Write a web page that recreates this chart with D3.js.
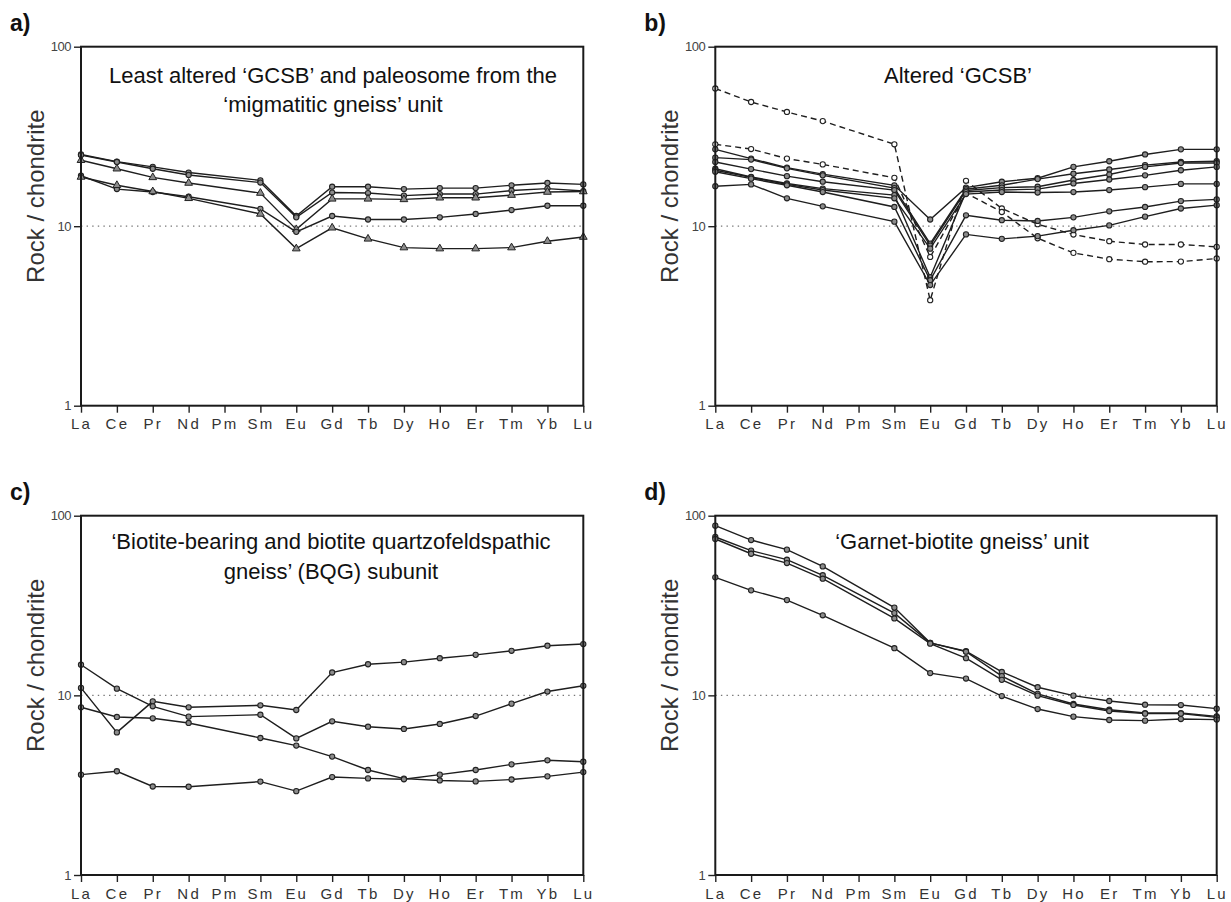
<!DOCTYPE html>
<html>
<head>
<meta charset="utf-8">
<script src="https://cdn.jsdelivr.net/npm/d3@7/dist/d3.min.js"></script>
<style>
  html, body { margin: 0; padding: 0; background: #fff; }
  svg { display: block; }
  text { font-family: "Liberation Sans", Arial, sans-serif; }
</style>
</head>
<body>
<svg id="chart" width="1231" height="902"></svg>
<script>
// ---------- categories & ticks ----------
const elements = ["La","Ce","Pr","Nd","Pm","Sm","Eu","Gd","Tb","Dy","Ho","Er","Tm","Yb","Lu"];
const yTickValues = [1, 10, 100];
const yLabel = "Rock / chondrite";

// ---------- panel a: Least altered 'GCSB' ----------
const titleA = ["Least altered \u2018GCSB\u2019 and paleosome from the", "\u2018migmatitic gneiss\u2019 unit"];
const seriesA1 = [25.1, 22.9, 21.4, 19.9, null, 18.0, 11.4, 16.6, 16.6, 16.1, 16.3, 16.3, 16.9, 17.4, 17.1];
const seriesA2 = [24.9, 22.8, 20.9, 19.3, null, 17.5, 11.2, 15.4, 15.3, 14.8, 15.1, 15.1, 15.8, 16.2, 15.7];
const seriesA3 = [23.3, 20.9, 18.7, 17.4, null, 15.3, 9.6, 14.2, 14.2, 14.1, 14.4, 14.4, 14.9, 15.5, 15.6];
const seriesA4 = [19.1, 16.1, 15.5, 14.6, null, 12.5, 9.3, 11.4, 10.9, 10.9, 11.2, 11.7, 12.3, 13.0, 13.0];
const seriesA5 = [18.8, 16.9, 15.6, 14.3, null, 11.7, 7.5, 9.8, 8.5, 7.6, 7.5, 7.5, 7.6, 8.25, 8.7];

// ---------- panel b: Altered 'GCSB' ----------
const titleB = ["Altered \u2018GCSB\u2019"];
const seriesB1 = [26.8, 23.8, 21.2, 19.5, null, 16.9, 10.9, 16.4, 17.7, 18.5, 21.4, 23.0, 25.1, 26.8, 26.8];
const seriesB2 = [24.1, 23.5, 21.0, 19.2, null, 16.3, 8.0, 16.1, 16.9, 18.3, 19.6, 20.7, 21.9, 22.8, 23.0];
const seriesB3 = [22.8, 20.8, 19.0, 17.7, null, 15.9, 7.8, 15.8, 16.4, 16.6, 18.1, 19.4, 21.4, 22.5, 22.5];
const seriesB4 = [20.9, 18.8, 17.3, 16.2, null, 14.9, 5.2, 15.5, 15.9, 16.1, 17.3, 18.2, 19.2, 20.5, 21.4];
const seriesB5 = [20.5, 18.7, 17.1, 15.9, null, 14.3, 7.5, 15.1, 15.5, 15.4, 15.5, 15.9, 16.5, 17.2, 17.2];
const seriesB6 = [20.1, 18.4, 16.9, 15.5, null, 12.8, 5.0, 11.5, 10.8, 10.7, 11.2, 12.1, 12.8, 13.8, 14.1];
const seriesB7 = [16.7, 17.1, 14.3, 12.9, null, 10.6, 4.7, 9.0, 8.5, 8.8, 9.5, 10.1, 11.3, 12.55, 13.1];
const seriesBDash1 = [58.5, 49.2, 43.3, 38.5, null, 28.6, 3.87, 17.9, 12.55, 10.26, 8.99, 8.25, 7.91, 7.91, 7.67];
const seriesBDash2 = [28.6, 26.9, 23.8, 22.1, null, 18.6, 6.74, 15.3, 12.0, 8.57, 7.10, 6.55, 6.34, 6.35, 6.61];

// ---------- panel c: BQG subunit ----------
const titleC = ["\u2018Biotite-bearing and biotite quartzofeldspathic", "gneiss\u2019 (BQG) subunit"];
const seriesC1 = [11.0, 6.22, 9.26, 8.58, null, 8.80, 8.29, 13.4, 14.9, 15.3, 16.1, 16.8, 17.7, 18.9, 19.3];
const seriesC2 = [14.8, 10.9, 8.69, 7.61, null, 7.80, 5.76, 7.17, 6.69, 6.50, 6.93, 7.67, 8.99, 10.5, 11.3];
const seriesC3 = [8.58, 7.58, 7.45, 7.02, null, 5.79, 5.25, 4.56, 3.84, 3.44, 3.36, 3.32, 3.40, 3.54, 3.74];
const seriesC4 = [3.62, 3.78, 3.11, 3.10, null, 3.31, 2.93, 3.51, 3.45, 3.41, 3.62, 3.84, 4.13, 4.35, 4.27];

// ---------- panel d: Garnet-biotite gneiss ----------
const titleD = ["\u2018Garnet-biotite gneiss\u2019 unit"];
const seriesD1 = [88.0, 73.2, 64.7, 52.2, null, 30.8, 19.6, 17.6, 13.5, 11.1, 9.96, 9.30, 8.87, 8.83, 8.43];
const seriesD2 = [76.1, 63.9, 56.9, 46.6, null, 28.7, 19.6, 17.5, 12.8, 10.2, 8.95, 8.32, 7.97, 7.97, 7.64];
const seriesD3 = [74.2, 61.4, 54.5, 44.6, null, 26.8, 19.4, 16.1, 12.2, 9.96, 8.84, 8.18, 7.91, 7.91, 7.54];
const seriesD4 = [45.4, 38.4, 33.9, 27.9, null, 18.3, 13.3, 12.4, 9.91, 8.39, 7.61, 7.29, 7.23, 7.38, 7.33];

// ---------- layout ----------
const panels = [
  { tag: "a)", x0: 81,    x1: 583.3,  y0: 46.7,  y1: 405.7, title: titleA, tx: 333, ty: 83, lh: 28.5,
    series: [ {v: seriesA1, m: "circle"}, {v: seriesA2, m: "circle"}, {v: seriesA3, m: "triangle"},
              {v: seriesA4, m: "circle"}, {v: seriesA5, m: "triangle"} ] },
  { tag: "b)", x0: 715.3, x1: 1216.7, y0: 46.7,  y1: 405.7, title: titleB, tx: 958, ty: 83, lh: 28.5,
    series: [ {v: seriesBDash1, m: "circle", dash: true}, {v: seriesBDash2, m: "circle", dash: true},
              {v: seriesB1, m: "circle"}, {v: seriesB2, m: "circle"}, {v: seriesB3, m: "circle"}, {v: seriesB4, m: "circle"},
              {v: seriesB5, m: "circle"}, {v: seriesB6, m: "circle"}, {v: seriesB7, m: "circle"} ] },
  { tag: "c)", x0: 81,    x1: 583.3,  y0: 515.7, y1: 875,   title: titleC, tx: 331, ty: 549, lh: 29.5,
    series: [ {v: seriesC1, m: "circle"}, {v: seriesC2, m: "circle"}, {v: seriesC3, m: "circle"}, {v: seriesC4, m: "circle"} ] },
  { tag: "d)", x0: 715.3, x1: 1216.7, y0: 515.7, y1: 875,   title: titleD, tx: 962, ty: 549, lh: 29.5,
    series: [ {v: seriesD1, m: "circle"}, {v: seriesD2, m: "circle"}, {v: seriesD3, m: "circle"}, {v: seriesD4, m: "circle"} ] }
];

const svg = d3.select("#chart");

panels.forEach(p => {
  const g = svg.append("g");
  const x = d3.scalePoint().domain(elements).range([p.x0, p.x1]);
  const y = d3.scaleLog().domain([1, 100]).range([p.y1, p.y0]);

  // panel tag
  g.append("text").attr("x", p.x0 - 71).attr("y", p.y0 - 16)
    .attr("font-size", 23).attr("font-weight", "bold").attr("fill", "#111").text(p.tag);

  // y-axis title
  g.append("text")
    .attr("transform", `translate(${p.x0 - 37},${(p.y0 + p.y1) / 2 - 30}) rotate(-90)`)
    .attr("text-anchor", "middle").attr("font-size", 24).attr("fill", "#333").text(yLabel);

  // reference dotted line at 10
  g.append("line").attr("x1", p.x0).attr("x2", p.x1).attr("y1", y(10)).attr("y2", y(10))
    .attr("stroke", "#777").attr("stroke-width", 1.3).attr("stroke-dasharray", "1.4,4.2");

  // series
  const line = d3.line().x(d => x(d.e)).y(d => y(d.v));
  p.series.forEach(s => {
    const pts = elements.map((e, i) => ({ e, v: s.v[i] })).filter(d => d.v != null);
    g.append("path").datum(pts).attr("d", line).attr("fill", "none")
      .attr("stroke", "#1e1e1e").attr("stroke-width", 1.4)
      .attr("stroke-dasharray", s.dash ? "6,4" : null);
    if (s.m === "triangle") {
      g.selectAll(null).data(pts).enter().append("path")
        .attr("d", d3.symbol().type(d3.symbolTriangle).size(26)())
        .attr("transform", d => `translate(${x(d.e)},${y(d.v)})`)
        .attr("fill", "#8c8c8c").attr("stroke", "#222").attr("stroke-width", 1);
    } else {
      g.selectAll(null).data(pts).enter().append("circle")
        .attr("cx", d => x(d.e)).attr("cy", d => y(d.v)).attr("r", 2.6)
        .attr("fill", s.dash ? "#fff" : "#8c8c8c").attr("stroke", "#222").attr("stroke-width", 1.1);
    }
  });

  // title
  p.title.forEach((t, i) => {
    g.append("text").attr("x", p.tx).attr("y", p.ty + i * p.lh).attr("text-anchor", "middle")
      .attr("font-size", 22).attr("fill", "#111").text(t);
  });

  // axes
  const xAxis = g.append("g").attr("transform", `translate(0,${p.y1})`)
    .call(d3.axisBottom(x).tickSize(7).tickPadding(6).tickSizeOuter(0));
  xAxis.select(".domain").remove();
  xAxis.selectAll(".tick line").attr("stroke", "#222").attr("stroke-width", 1.4);
  xAxis.selectAll(".tick text").attr("font-size", 15).attr("fill", "#333")
    .attr("letter-spacing", "2.2px").attr("font-family", "'Liberation Sans', Arial, sans-serif");

  const yAxis = g.append("g").attr("transform", `translate(${p.x0},0)`)
    .call(d3.axisLeft(y).tickValues(yTickValues).tickFormat(d3.format("d")).tickSize(7).tickPadding(3).tickSizeOuter(0));
  yAxis.select(".domain").remove();
  yAxis.selectAll(".tick line").attr("stroke", "#222").attr("stroke-width", 1.4);
  yAxis.selectAll(".tick text").attr("font-size", 13).attr("fill", "#444")
    .attr("letter-spacing", "-0.5px").attr("font-family", "'Liberation Sans Narrow', 'Liberation Sans', Arial, sans-serif");

  // frame
  g.append("rect").attr("x", p.x0).attr("y", p.y0).attr("width", p.x1 - p.x0).attr("height", p.y1 - p.y0)
    .attr("fill", "none").attr("stroke", "#1a1a1a").attr("stroke-width", 2);
});
</script>
</body>
</html>
